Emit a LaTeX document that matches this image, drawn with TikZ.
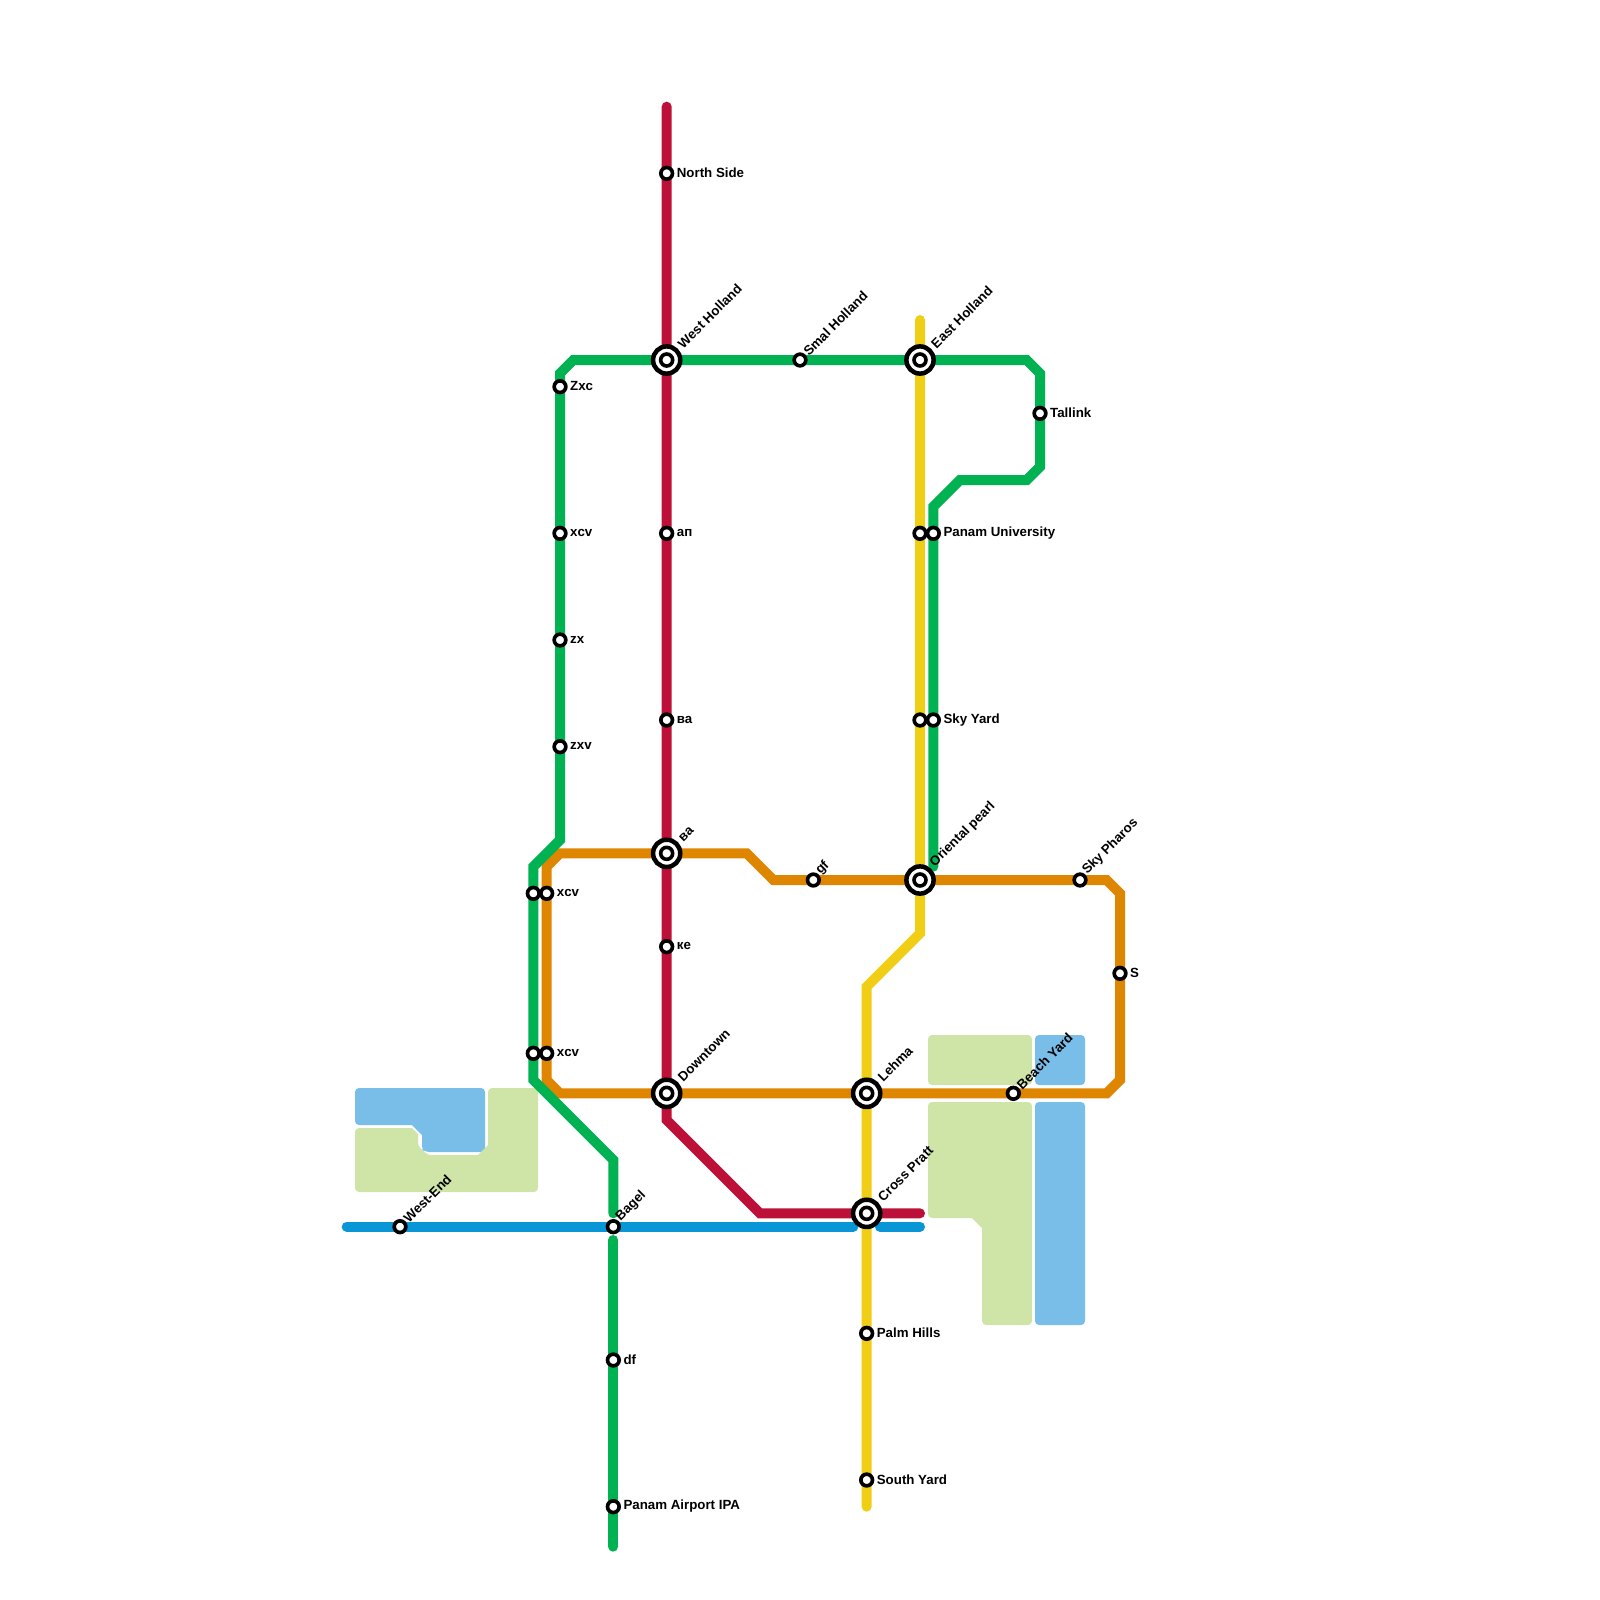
\documentclass[tikz,border=0pt]{standalone}
\usepackage{fontspec}
\setmainfont{Liberation Sans}
\definecolor{lred}{HTML}{BD1038}
\definecolor{lblue}{HTML}{0896D7}
\definecolor{lyellow}{HTML}{F0CE15}
\definecolor{lorange}{HTML}{DF8600}
\definecolor{lgreen}{HTML}{00B251}
\definecolor{wblue}{HTML}{79BDE9}
\definecolor{pgreen}{HTML}{CFE4A7}
\tikzset{
  metro/.style={line width=10pt,line cap=round,line join=miter},
  water/.style={fill=wblue,draw=none,rounded corners=4pt},
  park/.style={fill=pgreen,draw=none,rounded corners=4pt},
  stop/.style={circle,fill=white,draw=black,line width=3.65pt,minimum size=11.65pt,inner sep=0pt},
  hub/.style={circle,fill=white,draw=black,line width=4.5pt,minimum size=27.2pt,inner sep=0pt},
  hubcore/.style={circle,fill=white,draw=black,line width=3.6pt,minimum size=12pt,inner sep=0pt},
  lab/.style={font=\fontsize{13.3pt}{14pt}\selectfont\bfseries,inner sep=0pt,text=black,anchor=west},
  labr/.style={lab,xshift=10pt,yshift=0.3pt},
  labd/.style={lab,rotate=45,anchor=south west,xshift=8.5pt,yshift=-4.5pt},
  labD/.style={lab,rotate=45,anchor=south west,xshift=19.4pt,yshift=-4.4pt},
}
\begin{document}
\begin{tikzpicture}[x=13.3333pt,y=-13.3333pt]
\useasboundingbox (0,0) rectangle (120,120);
% station positions
\foreach \n/\x/\y in {NS/50/13,WH/50/27,AP/50/40,VA/50/54,VB/50/64,KE/50/71,DT/50/82,
  SH/60/27,EH/69/27,TL/78/31,ZC/42/29,XA/42/40,ZX/42/48,ZV/42/56,
  XB/41/67,XC/41/79,XBg/40/67,XCg/40/79,BG/46/92,DF/46/102,PA/46/113,WE/30/92,
  GF/61/66,OP/69/66,SP/81/66,SS/84/73,LE/65/82,BY/76/82,CP/65/91,PH/65/100,SY/65/111,
  PU/70/40,PUy/69/40,SK/70/54,SKy/69/54}
  {\coordinate (\n) at (\x,\y);}
% way points
\foreach \n/\x/\y in {r0/50/8,r1/50/84,r2/57/91,r3/69/91,
  b0/26/92,b1/64/92,b2/66/92,b3/69/92,
  y0/69/24,y1/69/70,y2/65/74,y3/65/113,
  g0/46/116,g1/46/93,g2/46/91,g3/46/87,g4/40/81,g5/40/65,g6/42/63,g7/42/28,g8/43/27,g9/77/27,g10/78/28,g11/78/35,g12/77/36,g13/72/36,g14/70/38,g15/70/65,
  o0/56/64,o1/58/66,o2/83/66,o3/84/67,o4/84/81,o5/83/82,o6/42/82,o7/41/81,o8/41/65,o9/42/64}
  {\coordinate (\n) at (\x,\y);}
% water and parks (pixel coordinates)
\begin{scope}[x=1pt,y=-1pt]
\draw[water] (355,1088)--(485,1088)--(485,1152)--(425,1152)[rounded corners=3pt]--(422,1149)[sharp corners]--(422,1135)--(412,1125)[rounded corners=4pt]--(355,1125)--cycle;
\draw[park] (355,1128)[sharp corners]--(412,1128)--(418,1134)[rounded corners=3pt]--(418,1146)--(428,1155)[sharp corners]--(478,1155)--(488,1145)[rounded corners=4pt]--(488,1088)--(538,1088)--(538,1192)--(355,1192)--cycle;
\draw[park] (928,1035) rectangle (1032,1085);
\draw[water] (1035,1035) rectangle (1085,1085);
\draw[park] (928,1102)--(1032,1102)--(1032,1325)--(982,1325)[sharp corners]--(982,1228)--(972,1218)[rounded corners=4pt]--(928,1218)--cycle;
\draw[water] (1035,1102) rectangle (1085,1325);
\end{scope}
% lines
\draw[metro,lblue] (b0)--(b1);
\draw[metro,lblue] (b2)--(b3);
\draw[metro,lred] (r0)--(r1)--(r2)--(r3);
\draw[metro,lyellow] (y0)--(y1)--(y2)--(y3);
\draw[metro,lorange] (o0)--(o1)--(o2)--(o3)--(o4)--(o5)--(o6)--(o7)--(o8)--(o9)--cycle;
\draw[metro,lgreen] (g0)--(g1);
\draw[metro,lgreen] (g2)--(g3)--(g4)--(g5)--(g6)--(g7)--(g8)--(g9)--(g10)--(g11)--(g12)--(g13)--(g14)--(g15);
% stations
\foreach \n in {NS,AP,VA,KE,SH,TL,ZC,XA,ZX,ZV,XB,XC,XBg,XCg,BG,DF,PA,WE,GF,SP,SS,BY,PH,SY,PU,PUy,SK,SKy}
  {\node[stop] (s\n) at (\n) {};}
\foreach \n in {WH,VB,DT,EH,OP,LE,CP}
  {\node[hub] (s\n) at (\n) {}; \node[hubcore] (c\n) at (\n) {};}
% labels
\node[labr] (lNS) at (NS) {North Side};
\node[labr] (lAP) at (AP) {ап};
\node[labr] (lVA) at (VA) {ва};
\node[labr] (lKE) at (KE) {ке};
\node[labr] (lZC) at (ZC) {Zxc};
\node[labr] (lXA) at (XA) {xcv};
\node[labr] (lZX) at (ZX) {zx};
\node[labr] (lZV) at (ZV) {zxv};
\node[labr] (lXB) at (XB) {xcv};
\node[labr] (lXC) at (XC) {xcv};
\node[labr] (lDF) at (DF) {df};
\node[labr] (lPA) at (PA) {Panam Airport IPA};
\node[labr] (lPH) at (PH) {Palm Hills};
\node[labr] (lSY) at (SY) {South Yard};
\node[labr] (lPU) at (PU) {Panam University};
\node[labr] (lSK) at (SK) {Sky Yard};
\node[labr] (lTL) at (TL) {Tallink};
\node[labr] (lSS) at (SS) {S};
\node[labd] (lSH) at (SH) {Smal Holland};
\node[labd] (lWE) at (WE) {West-End};
\node[labd] (lBG) at (BG) {Bagel};
\node[labd] (lGF) at (GF) {gf};
\node[labd] (lSP) at (SP) {Sky Pharos};
\node[labd] (lBY) at (BY) {Beach Yard};
\node[labD] (lWH) at (WH) {West Holland};
\node[labD] (lVB) at (VB) {ва};
\node[labD] (lDT) at (DT) {Downtown};
\node[labD] (lEH) at (EH) {East Holland};
\node[labD] (lOP) at (OP) {Oriental pearl};
\node[labD] (lLE) at (LE) {Lehma};
\node[labD] (lCP) at (CP) {Cross Pratt};
\end{tikzpicture}
\end{document}
